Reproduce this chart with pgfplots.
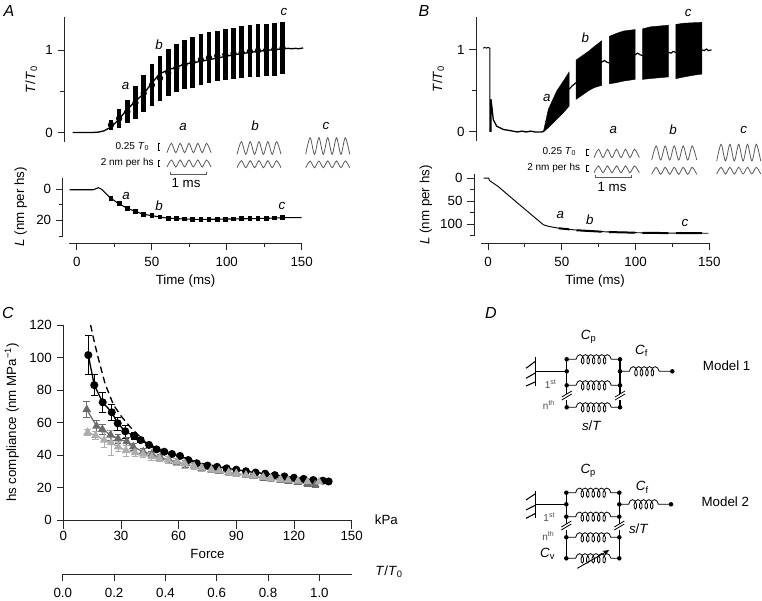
\documentclass[border=0pt]{standalone}
\usepackage{fontspec}
\setmainfont{Liberation Sans}
\usepackage{pgfplots}
\pgfplotsset{compat=1.18}
\usetikzlibrary{decorations.pathmorphing,arrows.meta}

\newcommand\fm{\fontsize{10}{12}\selectfont}
\newcommand\fs{\fontsize{7.5}{9}\selectfont}
\newcommand\fl{\fontsize{12}{14}\selectfont\itshape}
\newcommand\TT{\textit{T}/\textit{T}\textsubscript{0}}
\definecolor{trace}{gray}{0.35}
\definecolor{gdark}{gray}{0.42}
\definecolor{glight}{gray}{0.68}

\pgfplotsset{
  /pgf/number format/assume math mode=true,
  scale only axis,
  box/.style n args={4}{at={({#1*0.75pt},{(600-#2)*0.75pt})},anchor=south west,
    width={(#3-#1)*0.75pt},height={(#2-#4)*0.75pt}},
  every axis/.append style={line width=0.7pt,clip=false},
  axis line style={black!85},
  tick style={black!85,line width=0.7pt},
  tick align=outside,
  major tick length=5pt,
  minor tick length=3pt,
  tick label style={font=\fm},
  label style={font=\fm},
  yonly/.style={axis y line*=left,axis x line=none},
  xonly/.style={axis x line*=bottom,axis y line=none,ymin=0,ymax=1,ytick=\empty,
    xticklabel style={yshift=-2pt}},
  burst/.style={only marks,mark=none,forget plot,
    error bars/.cd,y dir=both,y explicit,error mark=none,
    error bar style={line width=3.5pt,black}},
}

\newcommand\spring[3]{\draw[line width=0.6pt,decorate,
  decoration={coil,aspect=0.55,segment length=4.1pt,amplitude=3.5pt,pre length=7pt,post length=6pt}]
  (#1,#3) -- (#2,#3);}
\newcommand\dotc[2]{\fill (#1,#2) circle[radius=1.7pt];}
\newcommand\brk[2]{\draw[line width=0.6pt] (#1-5,#2+3) -- (#1+5,#2-3); \draw[line width=0.6pt] (#1-5,#2+6) -- (#1+5,#2);}

\begin{document}
\begin{tikzpicture}
\path[use as bounding box] (0,0) rectangle (571.5pt,450pt);

% --- A: tension
\begin{axis}[box={64.3}{142}{301.7}{17},yonly,xmin=-8.5,xmax=150,ymin=-0.115,ymax=1.4,
  ytick={0,1},minor ytick={0.5},ylabel={\TT},ylabel shift=-1pt]
\addplot[burst] coordinates {
  (22.7,0.093) +- (0,0.057)
  (28.1,0.17) +- (0,0.11)
  (33.6,0.2535) +- (0,0.1365)
  (39.0,0.359) +- (0,0.201)
  (44.5,0.475) +- (0,0.225)
  (50.0,0.575) +- (0,0.255)
  (55.4,0.6575) +- (0,0.2725)
  (60.9,0.725) +- (0,0.285)
  (66.3,0.78) +- (0,0.29)
  (71.8,0.825) +- (0,0.295)
  (77.2,0.8525) +- (0,0.3075)
  (82.7,0.8825) +- (0,0.3075)
  (88.1,0.9075) +- (0,0.3075)
  (93.6,0.93) +- (0,0.305)
  (99.0,0.945) +- (0,0.31)
  (104.5,0.959) +- (0,0.311)
  (109.9,0.97) +- (0,0.315)
  (115.4,0.984) +- (0,0.316)
  (120.8,0.9925) +- (0,0.3175)
  (126.3,1.0) +- (0,0.315)
  (131.7,1.01) +- (0,0.32)
  (137.2,1.025) +- (0,0.32)
};
\addplot[black,line width=1pt] coordinates {
  (-3,0) (10,0) (14,0.004) (18,0.02) (23,0.07) (28,0.16) (33,0.27) (39,0.38) (44.5,0.47)
  (50,0.60) (55,0.71) (61,0.76) (66,0.79) (72,0.83) (82,0.86) (93,0.90) (104,0.94)
  (115,0.97) (126,0.995) (138,1.015) (141,1.02) (143,1.015) (146,1.02) (148,1.015) (151,1.025)
};
\end{axis}

% --- A: length
\begin{axis}[box={62.7}{236}{301.7}{177.7},yonly,xmin=-9.6,xmax=150,ymin=-7.3,ymax=30,y dir=reverse,
  ytick={0,20},minor ytick={10,30},ylabel={\textit{L} (nm per hs)},ylabel shift=0pt]
\addplot[black,line width=0.8pt] coordinates {
  (-5,0.4) (10.9,0.4) (14.2,-0.9) (16.5,0.2) (22,5.4) (27.6,9.2) (33,12) (38.7,14.2) (44,16)
  (49.8,17) (55.4,17.8) (59.8,18.5) (71,19.1) (82,19.4) (104,19.1) (126.6,18.7) (137.7,18.3) (150,18.3)
};
\addplot[only marks,mark=square*,mark size=1.4pt,black] coordinates {
  (22.7,6) (28.1,9.4) (33.6,12.2) (39,14.3) (44.5,16) (50,17) (55.4,17.8) (60.9,18.6) (66.3,18.9)
  (71.8,19.1) (77.2,19.3) (82.7,19.4) (88.1,19.4) (93.6,19.3) (99,19.2) (104.5,19.1) (109.9,19)
  (115.4,18.9) (120.8,18.8) (126.3,18.7) (131.7,18.5) (137.2,18.3)
};
\end{axis}
\begin{axis}[box={69.3}{243}{301.7}{233},xonly,xmin=-5,xmax=150,xtick={0,50,100,150},minor xtick={25,75,125},
  xlabel={Time (ms)},xlabel shift=-1pt]
\end{axis}

% --- B: tension
\begin{axis}[box={476}{141}{709.3}{17},yonly,xmin=-8.1,xmax=150,ymin=-0.11,ymax=1.4,
  ytick={0,1},minor ytick={0.5},ylabel={\TT},ylabel shift=2.5pt]
\addplot[black,line width=0.7pt] coordinates {
  (-3.3,1.02) (-2,1.03) (-1,1.02) (0,1.03) (1.35,1.02) (1.35,0)
};
\addplot[black,line width=1pt] coordinates {
  (2,0) (2,0.40) (2.7,0.30) (3.6,0.15) (5.9,0.07) (10.4,0.03) (14,0.02) (17,0.01) (20,0.0) (23,0.01)
  (26,0) (29,0.01) (32,0) (36.4,0) (38,0.01)
};
\addplot[fill=black,draw=black,line width=0.3pt] coordinates {
  (37.5,0) (40.9,0.275) (46.6,0.5) (51.1,0.62) (55,0.73) (55,0.315) (51.1,0.235) (46.6,0.155) (40.9,0.05)
} --cycle;
\addplot[fill=black,draw=black,line width=0.3pt] coordinates {
  (59.7,0.875) (64,0.93) (68,0.98) (72,1.04) (77,1.11) (77,0.567) (72,0.54) (68,0.5) (64,0.45) (59.7,0.397)
} --cycle;
\addplot[fill=black,draw=black,line width=0.3pt] coordinates {
  (82.3,1.165) (87,1.2) (92,1.23) (99.7,1.247) (99.7,0.64) (92,0.62) (87,0.6) (82.3,0.587)
} --cycle;
\addplot[fill=black,draw=black,line width=0.3pt] coordinates {
  (104.7,1.255) (110,1.28) (116,1.29) (122.3,1.30) (122.3,0.67) (116,0.66) (110,0.65) (104.7,0.64)
} --cycle;
\addplot[fill=black,draw=black,line width=0.3pt] coordinates {
  (127.3,1.31) (133,1.325) (139,1.33) (145,1.335) (145,0.705) (139,0.69) (133,0.67) (127.3,0.65)
} --cycle;
\addplot[black,line width=0.9pt] coordinates {
  (55,0.52) (57,0.56) (59.7,0.60) (77,0.85) (79,0.87) (80.5,0.85) (82.3,0.84) (99.7,0.94)
  (101.5,0.96) (103,0.94) (104.7,0.93) (122.3,0.97) (124,0.96) (125.5,0.98) (127.3,0.97)
  (145,1.0) (146.5,0.99) (148,1.01) (149.5,0.99) (151.5,1.0)
};
\end{axis}

% --- B: length
\begin{axis}[box={474}{236}{709.3}{174},yonly,xmin=-9.5,xmax=150,ymin=-9,ymax=126,y dir=reverse,
  ytick={0,50,100},minor ytick={25,75,125},ylabel={\textit{L} (nm per hs)},ylabel shift=-1pt]
\addplot[black,line width=0.7pt] coordinates {
  (-3,0) (0.5,0) (0.9,5) (6.8,18) (19.2,52) (37.5,101.5) (41,105) (48.8,109.5) (64.6,114.6)
  (87.2,118) (109.8,119.4) (149.4,120)
};
\addplot[black,line width=1.5pt] coordinates {(48,109.2) (55,111.5)};
\addplot[black,line width=1.5pt] coordinates {(60,113.5) (77,116.6)};
\addplot[black,line width=1.5pt] coordinates {(82,117.4) (99.7,118.8)};
\addplot[black,line width=1.5pt] coordinates {(104.7,119.2) (122.3,119.6)};
\addplot[black,line width=1.5pt] coordinates {(127.3,119.8) (145,120)};
\end{axis}
\begin{axis}[box={480.7}{243}{709.3}{233},xonly,xmin=-5,xmax=150,xtick={0,50,100,150},minor xtick={25,75,125},
  xlabel={Time (ms)},xlabel shift=-1pt]
\end{axis}

% --- C: compliance against force
\begin{axis}[box={63.3}{520}{351.7}{325},axis x line*=bottom,axis y line*=left,xmin=0,xmax=150,ymin=0,ymax=120,
  xtick={0,30,60,90,120,150},ytick={0,20,40,60,80,100,120},
  x tick style={/pgfplots/major tick length=6.5pt},
  xlabel={Force},ylabel={hs compliance (nm MPa\textsuperscript{−1})},ylabel shift=1pt,xlabel shift=-1pt]
\addplot[black,line width=1pt,mark=*,mark size=2.5pt,
  error bars/.cd,y dir=both,y explicit,error mark options={rotate=90,mark size=2.5pt},
  error bar style={line width=0.6pt}] coordinates {
  (13,101.5) +- (0,12) (16.1,83) +- (0,6.5) (20.5,72.4) +- (0,6) (25.2,66.3) +- (0,5) (28.3,59.5) +- (0,4)
  (32.2,54.6) +- (0,4) (36.8,51.7) +- (0,2) (40.2,49.2) +- (0,1.5) (44.6,46.2) +- (0,1) (48.5,43.5) +- (0,1)
  (52.5,42) +- (0,1) (56.5,40.6) +- (0,1) (60.7,39.4) +- (0,1) (65,36.9) +- (0,1) (69.4,34.9) +- (0,1)
  (75,33.5) +- (0,1) (80,32.7) +- (0,1) (85,31.8) +- (0,1) (90,31) +- (0,1) (95,30) +- (0,1)
  (100,29.2) +- (0,1) (105,28.5) +- (0,1) (110,27.6) +- (0,1) (115,26.8) +- (0,1) (120,26) +- (0,1)
  (125,25.3) +- (0,1) (130,24.6) +- (0,1) (135,24.2) +- (0,1) (138,23.7) +- (0,1)
};
\addplot[gdark,line width=1pt,mark=triangle*,mark size=2.8pt,
  error bars/.cd,y dir=both,y explicit,error mark options={rotate=90,mark size=2.5pt},
  error bar style={line width=0.6pt}] coordinates {
  (12.2,68) +- (0,5) (17.3,57.8) +- (0,3.5) (20.3,55.8) +- (0,3) (24.6,52.3) +- (0,3) (28.5,50) +- (0,2.5)
  (33,48.2) +- (0,2.5) (36.4,45) +- (0,2) (41.6,42) +- (0,2) (46,40.5) +- (0,2) (50.5,38.5) +- (0,2)
  (55,37) +- (0,2) (59,36) +- (0,2) (63.5,34.5) +- (0,2) (68,33) +- (0,2) (72,31.8) +- (0,2)
  (77,30.8) +- (0,1.5) (81,30) +- (0,1.5) (86,29.2) +- (0,1.5) (90,28.5) +- (0,1.5) (95,27.5) +- (0,1.5)
  (99,26.9) +- (0,1.5) (104,26) +- (0,1.5) (108,25.3) +- (0,1.5) (113,24.6) +- (0,1.5) (117,24) +- (0,1.5)
  (122,23.2) +- (0,1.5) (127,22.4) +- (0,1.5) (131,21.8) +- (0,1.5)
};
\addplot[glight,line width=1pt,mark=triangle*,mark size=2.8pt,
  error bars/.cd,y dir=both,y explicit,error mark options={rotate=90,mark size=2.5pt},
  error bar style={line width=0.6pt}] coordinates {
  (12.7,54) +- (0,2) (16.8,52) +- (0,2.5) (21.2,49.2) +- (0,4.5) (24.8,47.6) +- (0,7.5) (28.5,45) +- (0,3)
  (32.6,42.7) +- (0,3.5) (37.3,41.5) +- (0,2) (41.5,40.6) +- (0,2) (46,39) +- (0,2) (50,38) +- (0,2)
  (54.5,37) +- (0,2) (59,35.8) +- (0,2) (63,34.8) +- (0,3) (68,33) +- (0,2) (72,32) +- (0,2)
  (77,31) +- (0,1.5) (81,30.2) +- (0,1.5) (86,29.3) +- (0,1.5) (90,28.6) +- (0,1.5) (95,27.6) +- (0,1.5)
  (99,27) +- (0,1.5) (104,26.3) +- (0,1.5) (108,25.6) +- (0,1.5) (113,25) +- (0,1.5) (117,24.5) +- (0,1.5)
  (122,24) +- (0,1.5) (127,23.6) +- (0,1.5) (133,23.5) +- (0,1)
};
\addplot[black,line width=1pt,dash pattern=on 5pt off 3pt] coordinates {
  (14.2,120) (16.1,109.7) (18.2,99.5) (21.7,84) (26.1,70.8) (30.3,63.6) (34.7,57.4) (43.4,47)
  (53.8,42) (71,35) (90,31) (120,26) (138,23.7)
};
\end{axis}
\begin{axis}[box={62.8}{574}{351.7}{564},xonly,xmin=0,xmax=1.126,
  xtick={0,0.2,0.4,0.6,0.8,1.0},xticklabel style={/pgf/number format/.cd,fixed,fixed zerofill,precision=1}]
\end{axis}

% --- pixel overlay: panel letters, inset traces, model diagrams
\begin{axis}[at={(0,0)},anchor=south west,width=571.5pt,height=450pt,hide axis,
  xmin=0,xmax=762,ymin=0,ymax=600,y dir=reverse]
\node[font=\fl] at (9,11) {A};
\node[font=\fl] at (424,11) {B};
\node[font=\fl] at (8,313) {C};
\node[font=\fl] at (491,313) {D};
\node[font=\fm\itshape] at (125.7,85.7) {a};
\node[font=\fm\itshape] at (159,44.3) {b};
\node[font=\fm\itshape] at (284,11.7) {c};
\node[font=\fm\itshape] at (126,196) {a};
\node[font=\fm\itshape] at (159,206) {b};
\node[font=\fm\itshape] at (282,205.7) {c};
\node[font=\fm\itshape] at (183,126.7) {a};
\node[font=\fm\itshape] at (255,126) {b};
\node[font=\fm\itshape] at (326,126) {c};
\node[font=\fm\itshape] at (546.7,98.3) {a};
\node[font=\fm\itshape] at (585.3,37.3) {b};
\node[font=\fm\itshape] at (688.3,12.7) {c};
\node[font=\fm\itshape] at (560.3,215.3) {a};
\node[font=\fm\itshape] at (589.7,220) {b};
\node[font=\fm\itshape] at (685,222.7) {c};
\node[font=\fm\itshape] at (613.3,130) {a};
\node[font=\fm\itshape] at (673,130) {b};
\node[font=\fm\itshape] at (743.7,130) {c};
\node[font=\fm,anchor=west] at (370,520) {kPa};
\node[font=\fm,anchor=west] at (370.5,572) {\TT};

% inset traces, panel A
\addplot[trace,smooth,line width=0.6pt] coordinates {(167,152.7) (171.4,143.3) (175.8,152.7) (180.2,143.3) (184.6,152.7) (189,143.3) (193.4,152.7) (197.8,143.3) (202.2,152.7) (206.6,143.3) (211,152.7)};
\addplot[trace,smooth,line width=0.6pt] coordinates {(167,167) (171.4,160) (175.8,167) (180.2,160) (184.6,167) (189,160) (193.4,167) (197.8,160) (202.2,167) (206.6,160) (211,167)};
\addplot[trace,smooth,line width=0.6pt] coordinates {(237,154.3) (241.4,141.7) (245.8,154.3) (250.2,141.7) (254.6,154.3) (259,141.7) (263.4,154.3) (267.8,141.7) (272.2,154.3) (276.6,141.7) (281,154.3)};
\addplot[trace,smooth,line width=0.6pt] coordinates {(237,167.7) (241.4,160.7) (245.8,167.7) (250.2,160.7) (254.6,167.7) (259,160.7) (263.4,167.7) (267.8,160.7) (272.2,167.7) (276.6,160.7) (281,167.7)};
\addplot[trace,smooth,line width=0.6pt] coordinates {(305.7,154.3) (310.1,137.7) (314.5,154.3) (318.9,137.7) (323.3,154.3) (327.7,137.7) (332.1,154.3) (336.5,137.7) (340.9,154.3) (345.3,137.7) (349.7,154.3)};
\addplot[trace,smooth,line width=0.6pt] coordinates {(305.7,167.7) (310.1,161) (314.5,167.7) (318.9,161) (323.3,167.7) (327.7,161) (332.1,167.7) (336.5,161) (340.9,167.7) (345.3,161) (349.7,167.7)};
% inset traces, panel B
\addplot[trace,smooth,line width=0.6pt] coordinates {(594,157.7) (598.5,149.3) (603,157.7) (607.5,149.3) (612,157.7) (616.5,149.3) (621,157.7) (625.5,149.3) (630,157.7) (634.5,149.3) (639.3,157.7)};
\addplot[trace,smooth,line width=0.6pt] coordinates {(594,172.7) (598.5,166) (603,172.7) (607.5,166) (612,172.7) (616.5,166) (621,172.7) (625.5,166) (630,172.7) (634.5,166) (639.3,172.7)};
\addplot[trace,smooth,line width=0.6pt] coordinates {(651.7,160) (656.2,146) (660.7,160) (665.2,146) (669.7,160) (674.2,146) (678.7,160) (683.2,146) (687.7,160) (692.2,146) (696.7,160)};
\addplot[trace,smooth,line width=0.6pt] coordinates {(651.7,174.3) (656.2,167.3) (660.7,174.3) (665.2,167.3) (669.7,174.3) (674.2,167.3) (678.7,174.3) (683.2,167.3) (687.7,174.3) (692.2,167.3) (696.7,174.3)};
\addplot[trace,smooth,line width=0.6pt] coordinates {(716.7,161) (721.1,144.3) (725.5,161) (729.9,144.3) (734.3,161) (738.7,144.3) (743.1,161) (747.5,144.3) (751.9,161) (756.3,144.3) (760.7,161)};
\addplot[trace,smooth,line width=0.6pt] coordinates {(716.7,174) (721.1,167.3) (725.5,174) (729.9,167.3) (734.3,174) (738.7,167.3) (743.1,174) (747.5,167.3) (751.9,174) (756.3,167.3) (760.7,174)};

% inset captions and calibration bars
\node[font=\fs,anchor=east] at (154,146.7) {0.25 \textit{T}\textsubscript{0}};
\node[font=\fs,anchor=east] at (158.5,162.7) {2 nm per hs};
\draw[line width=0.5pt] (160,143.5) -- (158,143.5) -- (158,150) -- (160,150);
\draw[line width=0.5pt] (160,160) -- (158,160) -- (158,166) -- (160,166);
\draw[trace,line width=0.7pt] (170,172) -- (170,174) -- (206,174) -- (206,172);
\node[font=\fm] at (186,182.5) {1 ms};
\node[font=\fs,anchor=east] at (581,151.7) {0.25 \textit{T}\textsubscript{0}};
\node[font=\fs,anchor=east] at (585,167.7) {2 nm per hs};
\draw[line width=0.5pt] (588.5,149) -- (586.5,149) -- (586.5,155) -- (588.5,155);
\draw[line width=0.5pt] (588.5,165) -- (586.5,165) -- (586.5,171) -- (588.5,171);
\draw[trace,line width=0.7pt] (595,175) -- (595,177) -- (631.7,177) -- (631.7,175);
\node[font=\fm] at (612,186.7) {1 ms};

% Model 1
\draw[line width=0.9pt] (535.7,357.3) -- (535.7,386);
\draw[line width=0.8pt] (535.7,361) -- (526,368.3) (535.7,372.7) -- (526,378.3) (535.7,381.7) -- (526,386);
\draw[line width=0.8pt] (535.7,371.3) -- (566.7,371.3);
\draw[line width=1.1pt] (566.7,359.3) -- (566.7,394) (566.7,400) -- (566.7,407.3);
\draw[line width=1.1pt] (620,359.3) -- (620,394) (620,400) -- (620,407.3);
\brk{566.7}{394} \brk{620}{394}
\spring{566.7}{620}{359.3}
\spring{566.7}{620}{385.3}
\spring{566.7}{620}{407.3}
\spring{620}{672.3}{371.3}
\dotc{566.7}{359.3} \dotc{620}{359.3}
\dotc{566.7}{371.3} \dotc{620}{371.3}
\dotc{566.7}{385.3} \dotc{620}{385.3}
\dotc{566.7}{407.3} \dotc{620}{407.3}
\dotc{672.3}{371.3}
\node[font=\fm] at (588.7,337.3) {\textit{C}\textsubscript{p}};
\node[font=\fm] at (641.7,351) {\textit{C}\textsubscript{f}};
\node[font=\fs,text=black!70] at (550.7,384.3) {1\textsuperscript{st}};
\node[font=\fs,text=black!70] at (549,405.3) {n\textsuperscript{th}};
\node[font=\fm] at (591.7,426) {\textit{s}/\textit{T}};
\node[font=\fm] at (726.7,366) {Model 1};

% Model 2
\draw[line width=0.9pt] (535.7,490.7) -- (535.7,518.3);
\draw[line width=0.8pt] (535.7,493.5) -- (526,500) (535.7,505) -- (526,510) (535.7,513.3) -- (526,518.3);
\draw[line width=0.8pt] (535.7,504.3) -- (566.3,504.3);
\draw[line width=1.1pt] (566.3,492.7) -- (566.3,524) (566.3,530) -- (566.3,558.3);
\draw[line width=1.1pt] (619.3,492.7) -- (619.3,524) (619.3,530) -- (619.3,558.3);
\brk{566.3}{524} \brk{619.3}{524}
\spring{566.3}{619.3}{492.7}
\spring{566.3}{619.3}{516.7}
\spring{566.3}{619.3}{537.3}
\spring{566.3}{619.3}{558.3}
\spring{619.3}{671}{504.3}
\dotc{566.3}{492.7} \dotc{619.3}{492.7}
\dotc{566.3}{504.3} \dotc{619.3}{504.3}
\dotc{566.3}{516.7} \dotc{619.3}{516.7}
\dotc{566.3}{537.3} \dotc{619.3}{537.3}
\dotc{566.3}{558.3} \dotc{619.3}{558.3}
\dotc{671}{504.3}
\draw[line width=0.7pt,-{Stealth[length=5pt,width=4pt]}] (577.3,568.3) -- (609.3,550);
\node[font=\fm] at (588.3,471) {\textit{C}\textsubscript{p}};
\node[font=\fm] at (642.3,487.3) {\textit{C}\textsubscript{f}};
\node[font=\fs,text=black!70] at (549.3,517.7) {1\textsuperscript{st}};
\node[font=\fs,text=black!70] at (548.3,536) {n\textsuperscript{th}};
\node[font=\fm] at (547.7,554) {\textit{C}\textsubscript{v}};
\node[font=\fm] at (638.7,529) {\textit{s}/\textit{T}};
\node[font=\fm] at (725.3,501.7) {Model 2};
\end{axis}
\end{tikzpicture}
\end{document}
